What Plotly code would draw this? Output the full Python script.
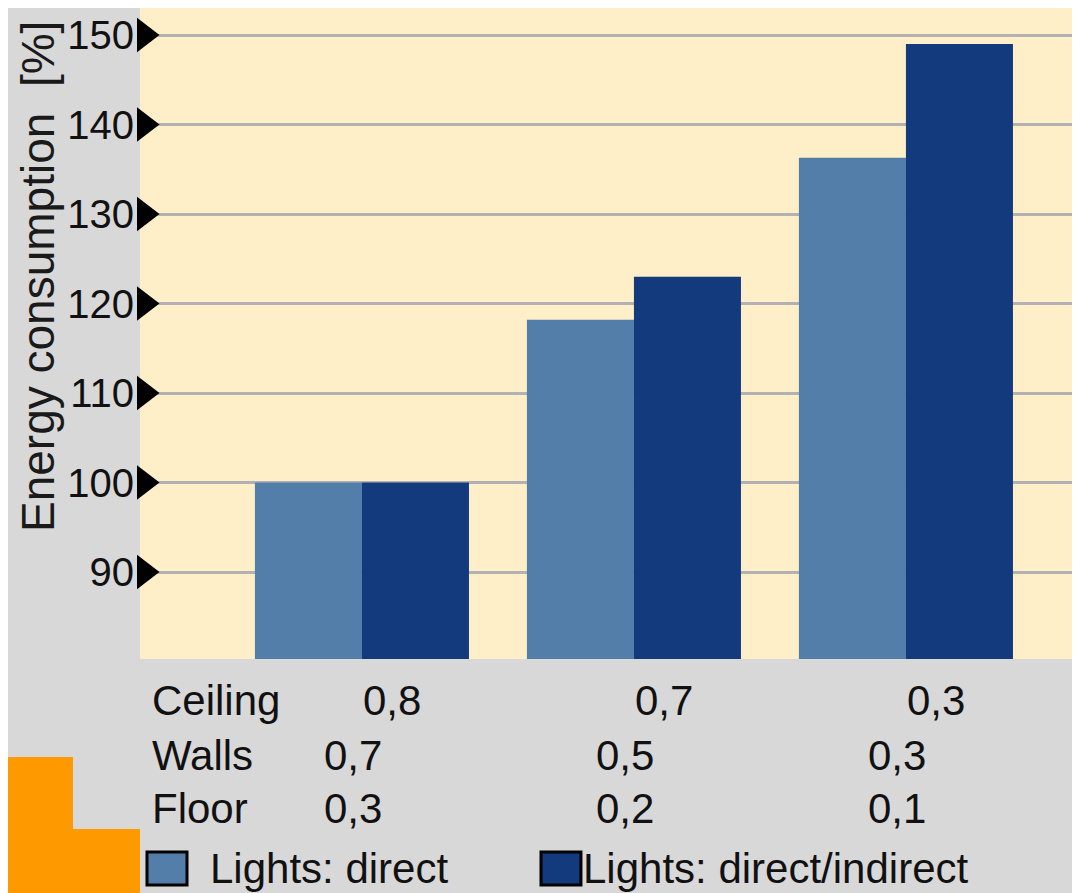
import plotly.graph_objects as go

# data
groups = ["A", "B", "C"]
series_names = ["Lights: direct", "Lights: direct/indirect"]
direct = [100, 118.2, 136.3]
direct_indirect = [100, 123.0, 149.0]
y_ticks = [90, 100, 110, 120, 130, 140, 150]

row_labels = ["Ceiling", "Walls", "Floor"]
ceiling = ["0,8", "0,7", "0,3"]
walls = ["0,7", "0,5", "0,3"]
floor = ["0,3", "0,2", "0,1"]

LIGHT = "#527ea9"
DARK = "#143a7e"
CREAM = "#feefc8"
GRAY = "#d9d8d9"
ORANGE = "#ff9900"

X_RANGE = [-0.816, 2.64]
Y_RANGE = [80.28, 153.02]

fig = go.Figure()
fig.add_trace(go.Bar(x=groups, y=direct, name=series_names[0],
                     marker=dict(color=LIGHT, line=dict(width=0))))
fig.add_trace(go.Bar(x=groups, y=direct_indirect, name=series_names[1],
                     marker=dict(color=DARK, line=dict(width=0))))

# black triangles next to the tick labels
fig.add_trace(go.Scatter(
    x=[X_RANGE[0] + 0.0165] * len(y_ticks), y=y_ticks, mode="markers",
    marker=dict(symbol="triangle-right", size=30, color="black"),
    cliponaxis=False, showlegend=False, hoverinfo="skip", xaxis="x2"
))

fig.update_layout(
    width=1072, height=885,
    margin=dict(l=132, r=0, t=0, b=234),
    paper_bgcolor=GRAY, plot_bgcolor=CREAM,
    barmode="group", bargap=0.213, bargroupgap=0,
    showlegend=False,
    font=dict(family="Liberation Sans, Arial, sans-serif", color="#111"),
    xaxis=dict(range=X_RANGE, showticklabels=False, showgrid=False,
               zeroline=False, ticks=""),
    xaxis2=dict(range=X_RANGE, overlaying="x", visible=False),
    yaxis=dict(range=Y_RANGE, tickvals=y_ticks, ticks="",
               showgrid=True, gridcolor="#b2b2b2", gridwidth=3,
               zeroline=False, showline=False, ticklabelstandoff=5,
               tickfont=dict(family="Liberation Sans Narrow, Arial Narrow, Liberation Sans",
                             size=40, color="#111")),
)

# axis title
fig.add_annotation(text="Energy consumption  [%]", textangle=-90,
                   xref="paper", yref="paper", x=-0.1085, y=0.5868,
                   xanchor="center", yanchor="middle",
                   showarrow=False, font=dict(size=46, color="#1a1a1a"))

# table under the chart
row_y = [-0.063, -0.1475, -0.229]
for lbl, yy in zip(row_labels, row_y):
    fig.add_annotation(text=lbl, xref="paper", yref="paper", x=0.0106, y=yy,
                       xanchor="left", yanchor="middle", showarrow=False,
                       font=dict(size=42))
narrow = dict(family="Liberation Sans Narrow, Arial Narrow, Liberation Sans",
              size=42, color="#111")
for vals, yy, shift in [(ceiling, row_y[0], 30), (walls, row_y[1], -9),
                        (floor, row_y[2], -9)]:
    for g, v in zip(groups, vals):
        fig.add_annotation(text=v, xref="x", yref="paper", x=g, y=yy,
                           xshift=shift, yanchor="middle", showarrow=False,
                           font=narrow)

# legend drawn by hand
leg = [(series_names[0], LIGHT, 0.00745, 0.05, 0.0723),
       (series_names[1], DARK, 0.4266, 0.4691, 0.4691)]
for name, col, x0, x1, tx in leg:
    fig.add_shape(type="rect", xref="paper", yref="paper", x0=x0, x1=x1,
                  y0=-0.3472, y1=-0.2965, fillcolor=col,
                  line=dict(color="black", width=3))
    fig.add_annotation(text=name, xref="paper", yref="paper", x=tx, y=-0.3215,
                       xanchor="left", yanchor="middle", showarrow=False,
                       font=dict(size=42))

# orange corner blocks
fig.add_shape(type="rect", xref="paper", yref="paper", x0=-0.1404, x1=-0.0713,
              y0=-0.36, y1=-0.1505, fillcolor=ORANGE, line_width=0)
fig.add_shape(type="rect", xref="paper", yref="paper", x0=-0.0713, x1=0,
              y0=-0.36, y1=-0.2611, fillcolor=ORANGE, line_width=0)

fig.write_html("out.html")
